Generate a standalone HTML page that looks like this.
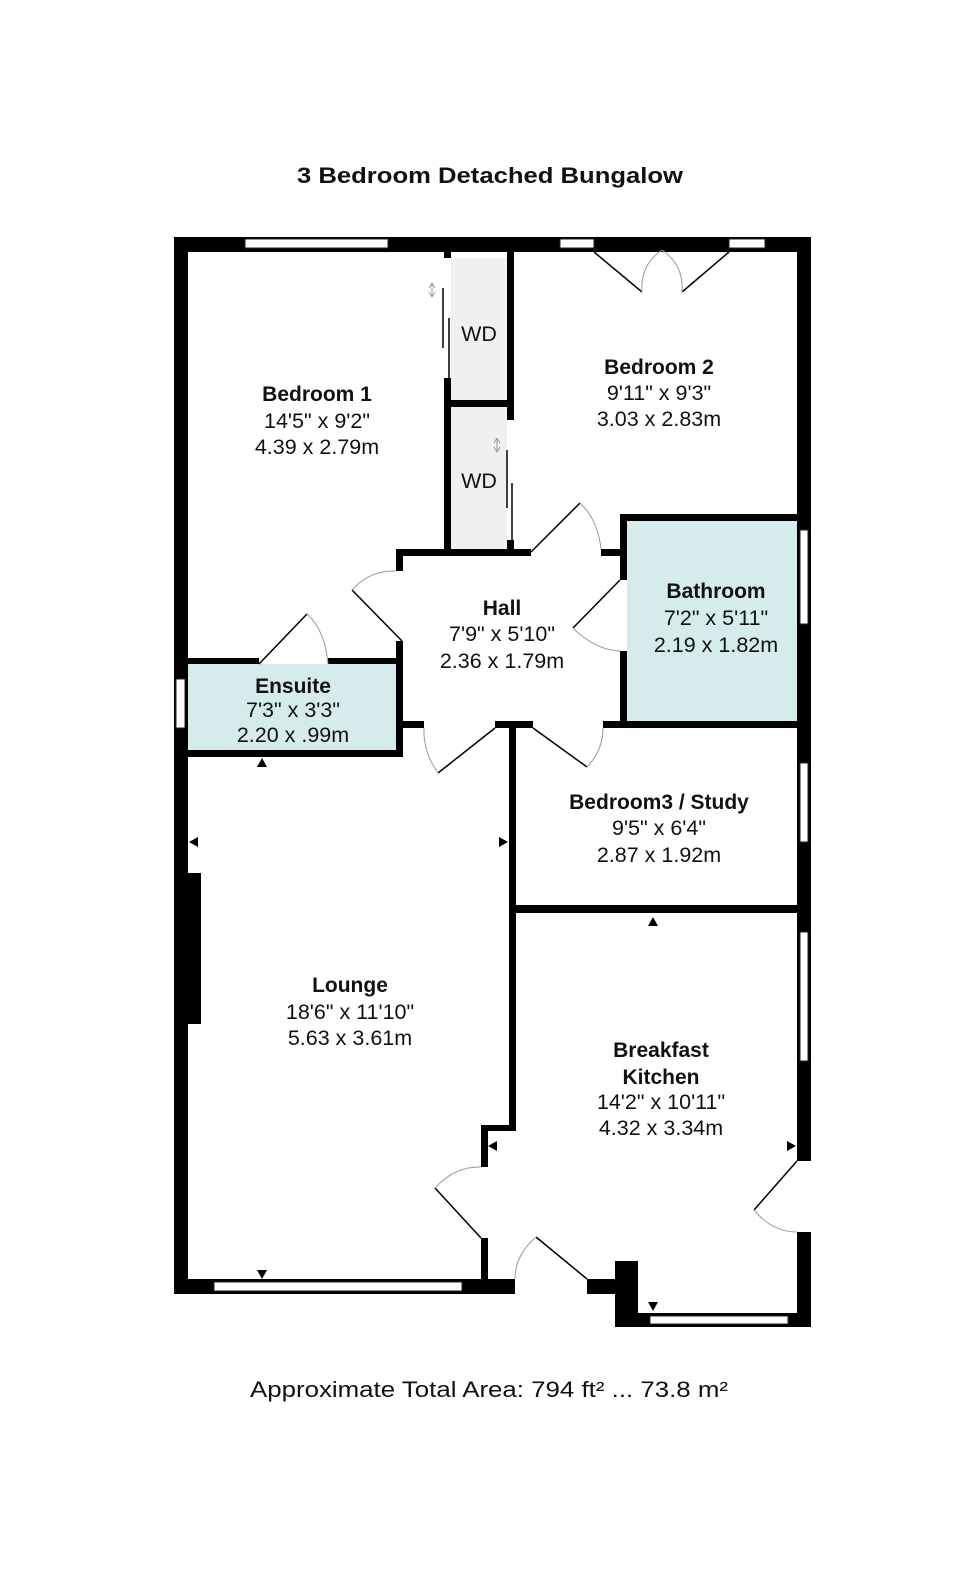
<!DOCTYPE html>
<html><head><meta charset="utf-8"><style>
html,body{margin:0;padding:0;background:#fff;}
svg{display:block;}
text{font-family:"Liberation Sans",Arial,sans-serif;fill:#111;}
.b{font-weight:bold;font-size:21px;}
.n{font-size:21.5px;}
</style></head><body>
<svg width="980" height="1582" viewBox="0 0 980 1582" xmlns="http://www.w3.org/2000/svg">
<rect width="980" height="1582" fill="#fff"/>
<text x="297" y="183" font-size="22" font-weight="bold" textLength="386" lengthAdjust="spacingAndGlyphs">3 Bedroom Detached Bungalow</text>

<rect x="451" y="258" width="56" height="142" fill="#f0f0f0"/>
<rect x="451" y="407" width="56" height="142" fill="#f0f0f0"/>
<rect x="627" y="521" width="170" height="201" fill="#d6ecec"/>
<rect x="188" y="664" width="208" height="86" fill="#d6ecec"/>

<g fill="#000">
<rect x="174" y="237" width="637" height="15"/>
<rect x="174" y="237" width="14" height="1057"/>
<rect x="797" y="237" width="14" height="924"/>
<rect x="797" y="1232" width="14" height="95"/>
<rect x="174" y="1279" width="341" height="15"/>
<rect x="587" y="1279" width="30" height="15"/>
<rect x="615" y="1261" width="23" height="66"/>
<rect x="615" y="1313" width="196" height="14"/>
<rect x="188" y="873" width="13" height="151"/>
<rect x="444" y="249" width="7" height="9"/>
<rect x="444" y="378" width="7" height="178"/>
<rect x="507" y="249" width="7" height="171"/>
<rect x="444" y="400" width="70" height="7"/>
<rect x="507" y="540" width="7" height="16"/>
<rect x="396" y="549" width="135" height="7"/>
<rect x="601" y="549" width="22" height="7"/>
<rect x="396" y="549" width="7" height="22"/>
<rect x="396" y="641" width="7" height="116"/>
<rect x="188" y="658" width="71" height="6"/>
<rect x="328" y="658" width="75" height="6"/>
<rect x="188" y="750" width="215" height="7"/>
<rect x="396" y="721" width="28" height="7"/>
<rect x="495" y="721" width="38" height="7"/>
<rect x="603" y="721" width="194" height="7"/>
<rect x="620" y="514" width="177" height="7"/>
<rect x="620" y="514" width="7" height="66"/>
<rect x="620" y="651" width="7" height="77"/>
<rect x="509" y="721" width="7" height="410"/>
<rect x="509" y="905" width="288" height="8"/>
<rect x="481" y="1125" width="35" height="6"/>
<rect x="481" y="1125" width="7" height="42"/>
<rect x="481" y="1238" width="7" height="50"/>
</g>

<g fill="#fff" stroke="#222" stroke-width="1">
<rect x="245" y="239" width="143" height="9"/>
<rect x="560" y="239" width="34" height="9"/>
<rect x="729" y="239" width="36" height="9"/>
<rect x="800" y="530" width="8" height="94"/>
<rect x="800" y="763" width="8" height="79"/>
<rect x="800" y="932" width="8" height="129"/>
<rect x="176" y="679" width="9" height="49"/>
<rect x="214" y="1282" width="248" height="9"/>
<rect x="650" y="1316" width="138" height="8"/>
</g>
<rect x="797" y="1161" width="14" height="71" fill="#fff"/>

<g fill="none" stroke="#000" stroke-width="1.5">
<line x1="594" y1="252" x2="642" y2="292"/>
<line x1="729" y1="252" x2="682" y2="292"/>
<line x1="259" y1="664" x2="307" y2="614"/>
<line x1="531" y1="552" x2="580" y2="503"/>
<line x1="402" y1="641" x2="352" y2="590"/>
<line x1="620" y1="580" x2="573" y2="628"/>
<line x1="495" y1="728" x2="438" y2="773"/>
<line x1="533" y1="728" x2="587" y2="767"/>
<line x1="797" y1="1161" x2="754" y2="1210"/>
<line x1="481" y1="1238" x2="435" y2="1188"/>
<line x1="587" y1="1279" x2="536" y2="1237"/>
<line x1="443" y1="288" x2="443" y2="348"/>
<line x1="449" y1="318" x2="449" y2="378"/>
<line x1="507" y1="450" x2="507" y2="508"/>
<line x1="512" y1="483" x2="512" y2="548"/>
</g>
<g fill="none" stroke="#999" stroke-width="1">
<path d="M642 292 Q640 265 662 250"/>
<path d="M682 292 Q684 265 662 250"/>
<path d="M307 614 Q325 630 328 664"/>
<path d="M580 503 Q598 520 601 549"/>
<path d="M352 590 Q370 570 396 571"/>
<path d="M573 628 Q595 650 620 651"/>
<path d="M438 773 Q423 752 424 728"/>
<path d="M587 767 Q603 750 603 728"/>
<path d="M754 1210 Q772 1232 797 1232"/>
<path d="M435 1188 Q455 1166 481 1167"/>
<path d="M536 1237 Q515 1255 515 1279"/>
<path d="M432 283 l-3 5 M432 283 l3 5 M432 283 L432 297 M432 297 l-3 -5 M432 297 l3 -5"/>
<path d="M497 438 l-3 5 M497 438 l3 5 M497 438 L497 452 M497 452 l-3 -5 M497 452 l3 -5"/>
</g>

<g fill="#000">
<polygon points="262,758 257,767 267,767"/>
<polygon points="189,842 198,837 198,847"/>
<polygon points="508,842 499,837 499,847"/>
<polygon points="262,1279 257,1270 267,1270"/>
<polygon points="653,917 648,926 658,926"/>
<polygon points="488,1146 497,1141 497,1151"/>
<polygon points="796,1146 787,1141 787,1151"/>
<polygon points="653,1311 648,1302 658,1302"/>
</g>

<g text-anchor="middle">
<text class="b" x="317" y="401">Bedroom 1</text>
<text class="n" x="317" y="428">14'5" x 9'2"</text>
<text class="n" x="317" y="454">4.39 x 2.79m</text>
<text class="n" x="479" y="341">WD</text>
<text class="n" x="479" y="488">WD</text>
<text class="b" x="659" y="374">Bedroom 2</text>
<text class="n" x="659" y="400">9'11" x 9'3"</text>
<text class="n" x="659" y="426">3.03 x 2.83m</text>
<text class="b" x="502" y="615">Hall</text>
<text class="n" x="502" y="641">7'9" x 5'10"</text>
<text class="n" x="502" y="668">2.36 x 1.79m</text>
<text class="b" x="716" y="598">Bathroom</text>
<text class="n" x="716" y="625">7'2" x 5'11"</text>
<text class="n" x="716" y="652">2.19 x 1.82m</text>
<text class="b" x="293" y="693">Ensuite</text>
<text class="n" x="293" y="717">7'3" x 3'3"</text>
<text class="n" x="293" y="742">2.20 x .99m</text>
<text class="b" x="659" y="809">Bedroom3 / Study</text>
<text class="n" x="659" y="835">9'5" x 6'4"</text>
<text class="n" x="659" y="862">2.87 x 1.92m</text>
<text class="b" x="350" y="992">Lounge</text>
<text class="n" x="350" y="1019">18'6" x 11'10"</text>
<text class="n" x="350" y="1045">5.63 x 3.61m</text>
<text class="b" x="661" y="1057">Breakfast</text>
<text class="b" x="661" y="1084">Kitchen</text>
<text class="n" x="661" y="1109">14'2" x 10'11"</text>
<text class="n" x="661" y="1135">4.32 x 3.34m</text>
</g>

<text x="250" y="1397" font-size="22" textLength="478" lengthAdjust="spacingAndGlyphs">Approximate Total Area: 794 ft² ... 73.8 m²</text>
</svg>
</body></html>
